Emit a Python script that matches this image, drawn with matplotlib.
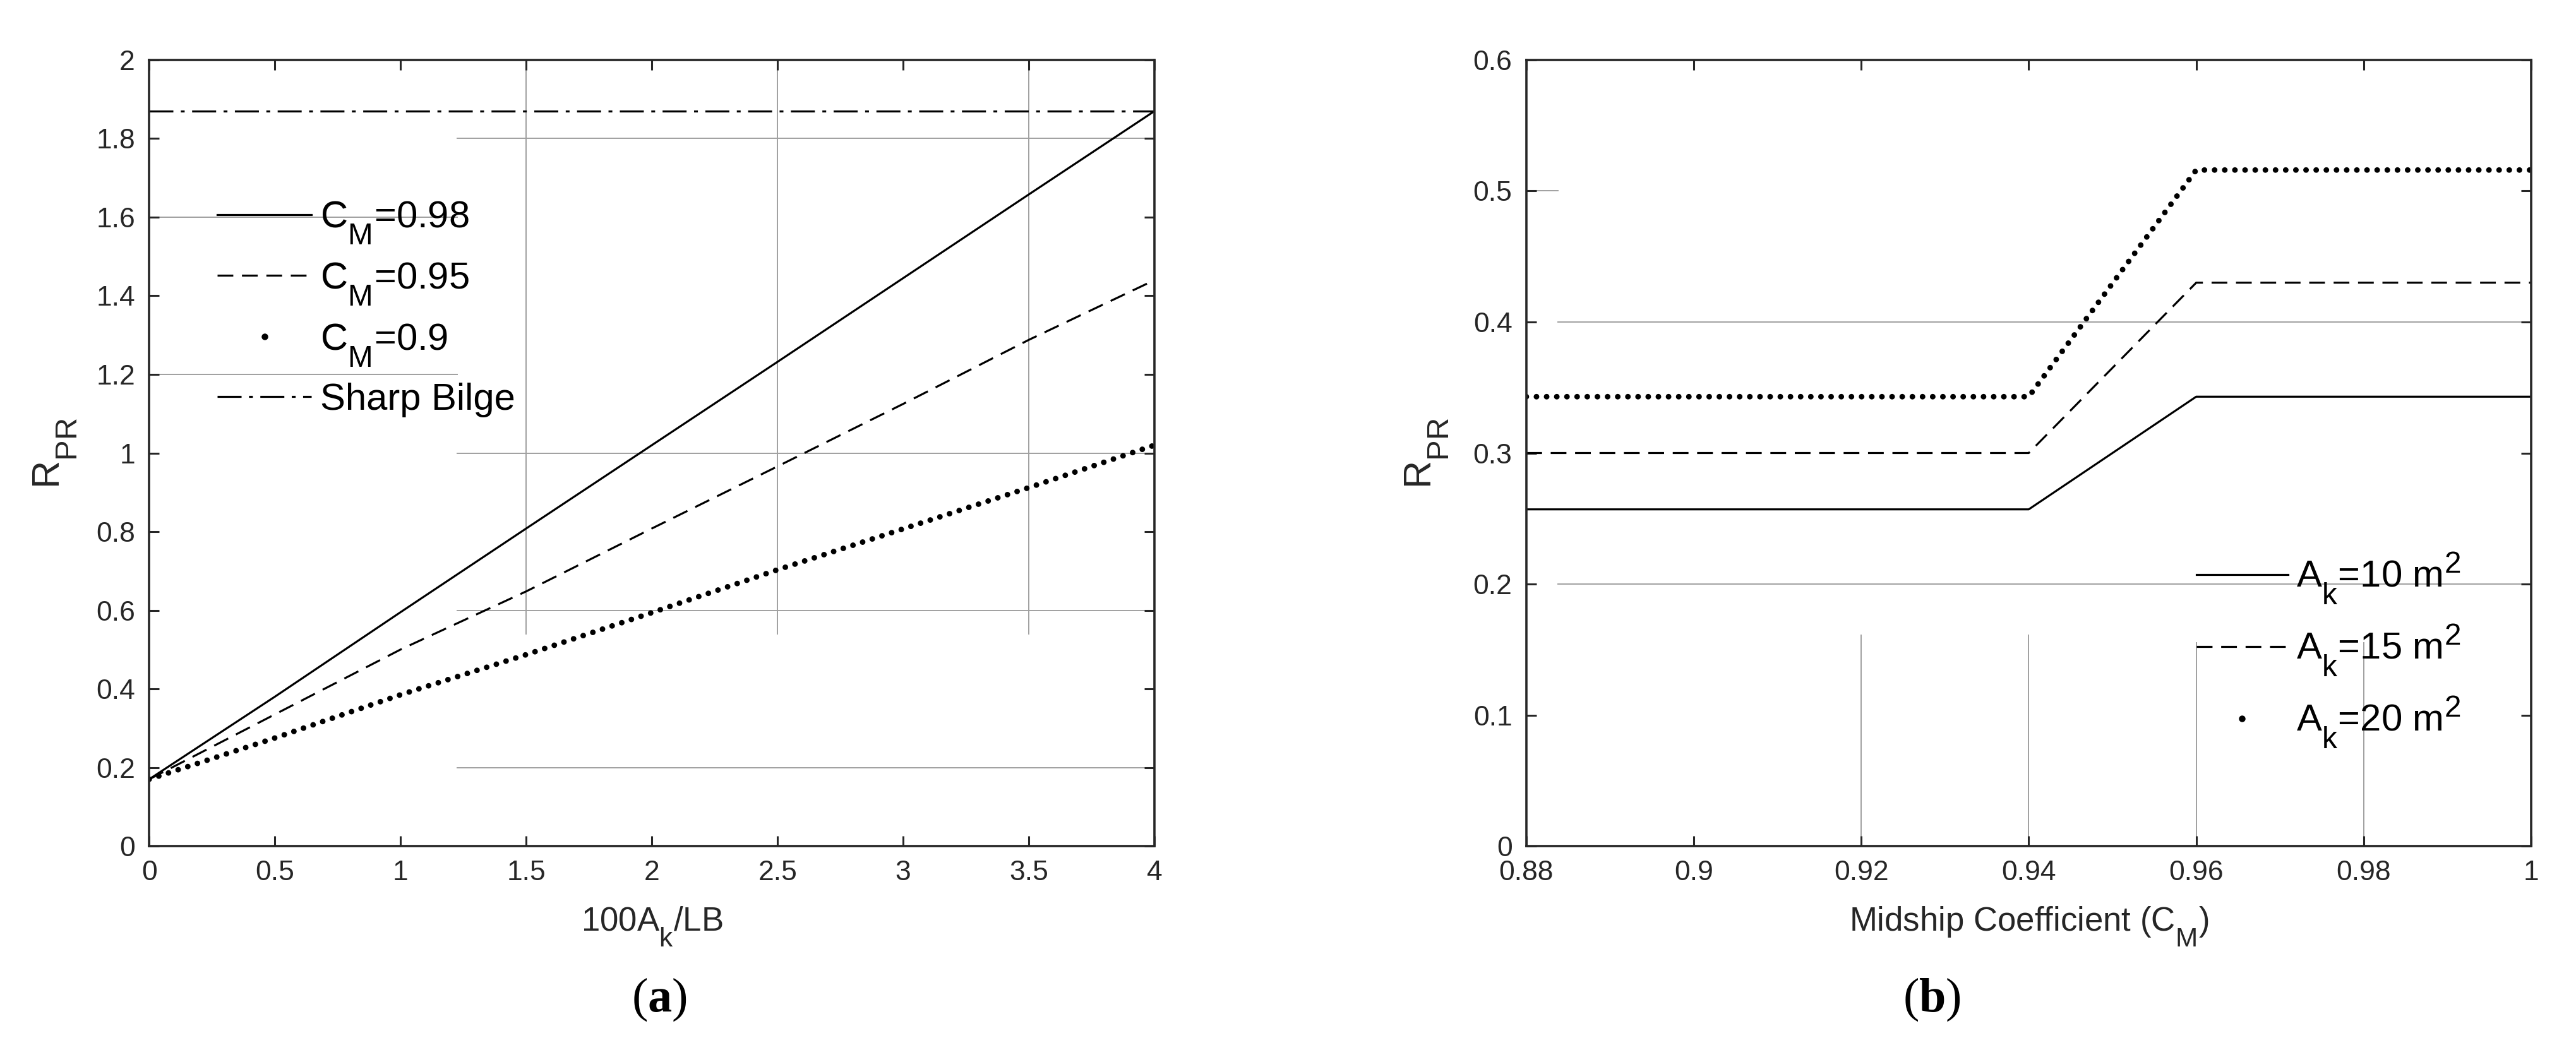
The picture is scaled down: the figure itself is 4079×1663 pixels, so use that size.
import matplotlib
matplotlib.use("Agg")
import matplotlib.pyplot as plt
import matplotlib._mathtext as mathtext_internals
from matplotlib.lines import Line2D

# ---- panel (a): R_PR against 100Ak/LB ----
ak_lb = [0, 0.5, 1, 1.5, 2, 2.5, 3, 3.5, 4]
rpr_cm098 = [0.17, 0.38, 0.595, 0.808, 1.02, 1.232, 1.445, 1.658, 1.87]
rpr_cm095 = [0.17, 0.335, 0.50, 0.648, 0.808, 0.966, 1.125, 1.288, 1.44]
rpr_cm090 = [0.17, 0.275, 0.385, 0.487, 0.594, 0.703, 0.807, 0.912, 1.02]
sharp_x = [0, 4]
sharp_bilge = [1.87, 1.87]
labels_a = ['C$_\\mathrm{M}$=0.98', 'C$_\\mathrm{M}$=0.95', 'C$_\\mathrm{M}$=0.9', 'Sharp Bilge']

# ---- panel (b): R_PR against midship coefficient ----
cm = [0.88, 0.94, 0.96, 1.0]
rpr_ak10 = [0.257, 0.257, 0.343, 0.343]
rpr_ak15 = [0.30, 0.30, 0.43, 0.43]
rpr_ak20 = [0.343, 0.343, 0.516, 0.516]
labels_b = ['A$_\\mathrm{k}$=10 m$^\\mathrm{2}$', 'A$_\\mathrm{k}$=15 m$^\\mathrm{2}$', 'A$_\\mathrm{k}$=20 m$^\\mathrm{2}$']

xticks_a = [0, 0.5, 1, 1.5, 2, 2.5, 3, 3.5, 4]
xtick_labels_a = ['0', '0.5', '1', '1.5', '2', '2.5', '3', '3.5', '4']
yticks_a = [0, 0.2, 0.4, 0.6, 0.8, 1, 1.2, 1.4, 1.6, 1.8, 2]
ytick_labels_a = ['0', '0.2', '0.4', '0.6', '0.8', '1', '1.2', '1.4', '1.6', '1.8', '2']
xticks_b = [0.88, 0.9, 0.92, 0.94, 0.96, 0.98, 1]
xtick_labels_b = ['0.88', '0.9', '0.92', '0.94', '0.96', '0.98', '1']
yticks_b = [0, 0.1, 0.2, 0.3, 0.4, 0.5, 0.6]
ytick_labels_b = ['0', '0.1', '0.2', '0.3', '0.4', '0.5', '0.6']

# broken grid pieces as they appear in the original (value, from, to)
grid_a_h = [(1.8, 1.226, 4), (1.6, 0, 1.226), (1.2, 0, 1.226), (1.0, 1.226, 4), (0.6, 1.226, 4), (0.2, 1.226, 4)]
grid_a_v = [(1.5, 0.54, 2), (2.5, 0.54, 2), (3.5, 0.54, 2)]
grid_b_h = [(0.5, 0.88, 0.8838), (0.4, 0.8838, 1), (0.2, 0.8838, 1)]
grid_b_v = [(0.92, 0, 0.161), (0.94, 0, 0.161), (0.96, 0, 0.155), (0.98, 0, 0.155)]

plt.rcParams['font.family'] = ['Liberation Sans', 'DejaVu Sans']
plt.rcParams['mathtext.fontset'] = 'custom'
plt.rcParams['mathtext.rm'] = 'Liberation Sans'
plt.rcParams['mathtext.it'] = 'Liberation Sans:italic'
plt.rcParams['mathtext.bf'] = 'Liberation Serif:bold'
# MATLAB-like sub/superscripts: bigger and lower than mathtext default
mathtext_internals.SHRINK_FACTOR = 0.8
mathtext_internals.FontConstantsBase.sub1 = 0.9
mathtext_internals.FontConstantsBase.sub2 = 0.9

axc = '#262626'
gridc = '#a0a0a0'
dash = (0, (7.8, 4.3))
dashdot = (0, (11.9, 3.7, 1.9, 3.7))
dots = (0, (0.01, 1.8))

fig = plt.figure(figsize=(40.79, 16.63), dpi=100)
ax1 = fig.add_axes([0.0579, 0.1942, 0.3903, 0.7487])
ax2 = fig.add_axes([0.5925, 0.1942, 0.3901, 0.7487])


def style_axes(ax):
    for s in ax.spines.values():
        s.set_linewidth(2.6)
        s.set_color(axc)
    ax.tick_params(direction='in', length=11.5, width=2.2, color=axc, labelcolor=axc,
                   labelsize=32, pad=16, top=True, right=True)


for y, x0, x1 in grid_a_h:
    ax1.plot([x0, x1], [y, y], color=gridc, lw=1.4, zorder=1)
for x, y0, y1 in grid_a_v:
    ax1.plot([x, x], [y0, y1], color=gridc, lw=1.4, zorder=1)

ax1.plot(ak_lb, rpr_cm098, color='black', lw=2.3, solid_capstyle='butt')
ax1.plot(ak_lb, rpr_cm095, color='black', lw=2.3, linestyle=dash)
ax1.plot(ak_lb, rpr_cm090, color='black', lw=6.4, linestyle=dots, dash_capstyle='round')
ax1.plot(sharp_x, sharp_bilge, color='black', lw=2.3, linestyle=dashdot)

ax1.set_xlim(0, 4)
ax1.set_ylim(0, 2)
ax1.set_xticks(xticks_a)
ax1.set_xticklabels(xtick_labels_a)
ax1.set_yticks(yticks_a)
ax1.set_yticklabels(ytick_labels_a)
style_axes(ax1)
ax1.set_xlabel('100A$_\\mathrm{k}$/LB', fontsize=38, color=axc)
ax1.set_ylabel('R$_\\mathrm{PR}$', fontsize=44, color=axc)
ax1.xaxis.set_label_coords(0.5, -0.075)
ax1.yaxis.set_label_coords(-0.07, 0.5)

handles_a = [Line2D([], [], color='black', lw=2.3),
             Line2D([], [], color='black', lw=2.3, linestyle=dash),
             Line2D([], [], color='black', marker='o', markersize=6.5, linestyle='None'),
             Line2D([], [], color='black', lw=2.3, linestyle=dashdot)]
ax1.legend(handles_a, labels_a, loc='upper left', bbox_to_anchor=(0.0678, 0.822), frameon=False,
           fontsize=43, handlelength=2.5, handletextpad=0.22, labelspacing=0.38,
           borderpad=0, borderaxespad=0, numpoints=1)

for y, x0, x1 in grid_b_h:
    ax2.plot([x0, x1], [y, y], color=gridc, lw=1.4, zorder=1)
for x, y0, y1 in grid_b_v:
    ax2.plot([x, x], [y0, y1], color=gridc, lw=1.4, zorder=1)

ax2.plot(cm, rpr_ak10, color='black', lw=2.3)
ax2.plot(cm, rpr_ak15, color='black', lw=2.3, linestyle=dash)
ax2.plot(cm, rpr_ak20, color='black', lw=6.4, linestyle=dots, dash_capstyle='round')

ax2.set_xlim(0.88, 1)
ax2.set_ylim(0, 0.6)
ax2.set_xticks(xticks_b)
ax2.set_xticklabels(xtick_labels_b)
ax2.set_yticks(yticks_b)
ax2.set_yticklabels(ytick_labels_b)
style_axes(ax2)
ax2.set_xlabel('Midship Coefficient (C$_\\mathrm{M}$)', fontsize=38, color=axc)
ax2.set_ylabel('R$_\\mathrm{PR}$', fontsize=44, color=axc)
ax2.xaxis.set_label_coords(0.5, -0.075)
ax2.yaxis.set_label_coords(-0.075, 0.5)

handles_b = [Line2D([], [], color='black', lw=2.3),
             Line2D([], [], color='black', lw=2.3, linestyle=dash),
             Line2D([], [], color='black', marker='o', markersize=6.5, linestyle='None')]
ax2.legend(handles_b, labels_b, loc='upper left', bbox_to_anchor=(0.667, 0.375), frameon=False,
           fontsize=43, handlelength=2.42, handletextpad=0.23, labelspacing=0.45,
           borderpad=0, borderaxespad=0, numpoints=1)

fig.text(0.256, 0.048, '($\\mathbf{a}$)', fontsize=55, ha='center', va='center',
         family='Liberation Serif')
fig.text(0.75, 0.048, '($\\mathbf{b}$)', fontsize=55, ha='center', va='center',
         family='Liberation Serif')

plt.savefig('out.png', dpi=100)
